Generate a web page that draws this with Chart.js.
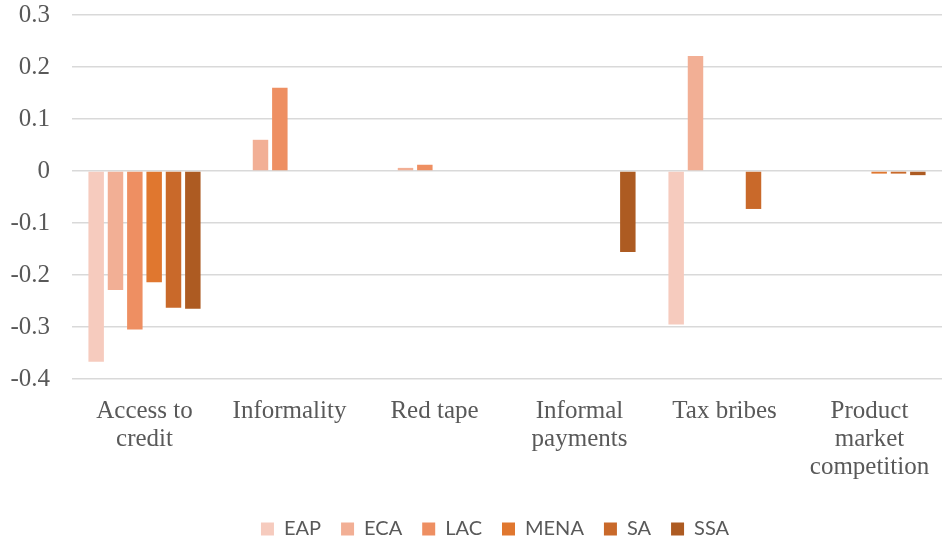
<!DOCTYPE html>
<html>
<head>
<meta charset="utf-8">
<script src="https://cdn.jsdelivr.net/npm/chart.js@4/dist/chart.umd.min.js"></script>
<style>
  html, body { margin: 0; padding: 0; background: #fff; }
  #wrap { width: 942px; height: 545px; position: relative; }
</style>
</head>
<body>
<div id="wrap"><canvas id="chart"></canvas></div>
<script>
  // categories (multi-line labels as in the original)
  var categories = [
    ['Access to', 'credit'],
    'Informality',
    'Red tape',
    ['Informal', 'payments'],
    'Tax bribes',
    ['Product', 'market', 'competition']
  ];

  // series values (null = no bar)
  var eap  = [-0.367, null,  null,  null,   -0.295, null];
  var eca  = [-0.229, 0.060, 0.006, null,    0.221, null];
  var lac  = [-0.305, 0.160, 0.012, null,    null,  null];
  var mena = [-0.214, null,  null,  null,    null,  -0.005];
  var sa   = [-0.263, null,  null,  null,   -0.073, -0.005];
  var ssa  = [-0.265, null,  null,  -0.156,  null,  -0.008];

  var yTicks = [0.3, 0.2, 0.1, 0, -0.1, -0.2, -0.3, -0.4];

  var COLORS = {
    EAP: '#F6CBBE',
    ECA: '#F2AF95',
    LAC: '#EE8F62',
    MENA: '#E0772F',
    SA: '#C9692A',
    SSA: '#AD5B22',
    grid: '#D9D9D9',
    text: '#595959'
  };

  function series(label, data) {
    return {
      label: label,
      data: data,
      backgroundColor: COLORS[label],
      borderWidth: 0,
      categoryPercentage: 0.8,
      barPercentage: 0.8
    };
  }

  // the legend in the original sits a bit right of centre
  var legendShift = {
    id: 'legendShift',
    afterLayout: function(chart) {
      if (!chart.legend) return;
      chart.legend.left += 24;
      chart.legend.right += 24;
    }
  };

  new Chart(document.getElementById('chart').getContext('2d'), {
    type: 'bar',
    data: {
      labels: categories,
      datasets: [
        series('EAP', eap),
        series('ECA', eca),
        series('LAC', lac),
        series('MENA', mena),
        series('SA', sa),
        series('SSA', ssa)
      ]
    },
    plugins: [legendShift],
    options: {
      responsive: true,
      maintainAspectRatio: false,
      animation: false,
      layout: { padding: { top: 15, right: 0, bottom: -4, left: 0 } },
      plugins: {
        legend: {
          position: 'bottom',
          labels: {
            color: COLORS.text,
            font: { family: 'Lato', size: 20 },
            boxWidth: 13,
            boxHeight: 13,
            padding: 20
          }
        },
        tooltip: { enabled: false }
      },
      scales: {
        x: {
          grid: { display: false },
          border: { display: false },
          ticks: {
            color: COLORS.text,
            font: { family: 'Liberation Serif', size: 25, lineHeight: 1.13 },
            maxRotation: 0,
            autoSkip: false,
            padding: 10
          },
          afterFit: function(scale) {
            scale.height = 120;
            scale.paddingLeft = 0;
            scale.paddingRight = 0;
          }
        },
        y: {
          min: -0.4,
          max: 0.3,
          afterBuildTicks: function(scale) {
            scale.ticks = yTicks.map(function(v) { return { value: v }; });
          },
          grid: { color: COLORS.grid, lineWidth: 1.5, drawTicks: false },
          border: { display: false },
          ticks: {
            color: COLORS.text,
            font: { family: 'Liberation Serif', size: 25 },
            padding: 22,
            callback: function(v) { return String(Math.round(v * 10) / 10); }
          },
          afterFit: function(scale) {
            scale.width = 72;
            scale.paddingTop = 0;
            scale.paddingBottom = 0;
          }
        }
      }
    }
  });
</script>
</body>
</html>
